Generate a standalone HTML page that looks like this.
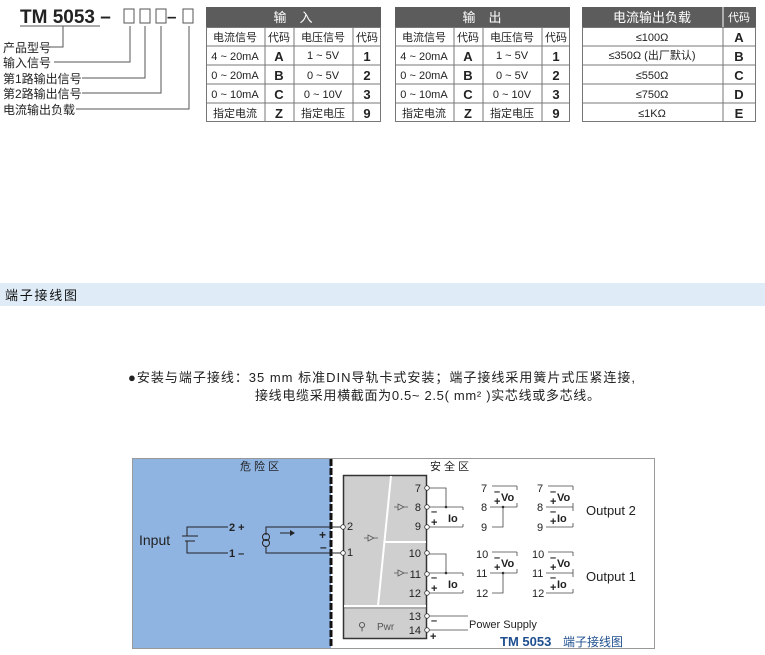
<!DOCTYPE html>
<html><head><meta charset="utf-8"><style>
html,body{margin:0;padding:0;background:#fff;}
svg{display:block;font-family:"Liberation Sans","Noto Sans CJK SC",sans-serif;}
</style></head><body>
<svg width="765" height="655" viewBox="0 0 765 655" xmlns="http://www.w3.org/2000/svg">
<rect width="765" height="655" fill="#fff"/>
<text x="20" y="23" font-size="19" font-weight="bold" fill="#222">TM 5053 –</text>
<g fill="none" stroke="#555" stroke-width="1">
<rect x="124" y="9" width="10" height="14"/><rect x="140" y="9" width="10" height="14"/><rect x="156" y="9" width="10" height="14"/>
<rect x="183" y="9" width="10" height="14"/>
<line x1="20" y1="26" x2="100" y2="26"/>
<polyline points="46,47 63,47 63,26"/>
<polyline points="54,62 130,62 130,26"/>
<polyline points="82,78 145,78 145,26"/>
<polyline points="82,93 161,93 161,26"/>
<polyline points="76,109 189,109 189,26"/>
</g>
<text x="167" y="22" font-size="17" font-weight="bold" fill="#222">–</text>
<g font-size="12" fill="#222">
<text x="3" y="52">产品型号</text><text x="3" y="67">输入信号</text><text x="3" y="83">第1路输出信号</text><text x="3" y="98">第2路输出信号</text><text x="3" y="114">电流输出负载</text>
</g>
<g id="t">
<rect x="206" y="7" width="175" height="20" fill="#5c5c5c"/>
<g fill="none" stroke="#777" stroke-width="1">
<rect x="206.5" y="27.5" width="174" height="94"/>
<line x1="206" y1="46" x2="381" y2="46"/><line x1="206" y1="65" x2="381" y2="65"/><line x1="206" y1="84" x2="381" y2="84"/><line x1="206" y1="103" x2="381" y2="103"/>
<line x1="265" y1="27" x2="265" y2="122"/><line x1="294" y1="27" x2="294" y2="122"/><line x1="353" y1="27" x2="353" y2="122"/>
</g>
<g font-size="11" fill="#222" text-anchor="middle">
<text x="235" y="41">电流信号</text><text x="279" y="41">代码</text><text x="323" y="41">电压信号</text><text x="367" y="41">代码</text>
<text x="235" y="60">4 ~ 20mA</text><text x="323" y="59">1 ~ 5V</text>
<text x="235" y="79">0 ~ 20mA</text><text x="323" y="79">0 ~ 5V</text>
<text x="235" y="98">0 ~ 10mA</text><text x="323" y="98">0 ~ 10V</text>
<text x="235" y="117">指定电流</text><text x="323" y="117">指定电压</text>
</g>
<g font-size="13" font-weight="bold" fill="#222" text-anchor="middle">
<text x="279" y="61">A</text><text x="279" y="80">B</text><text x="279" y="99">C</text><text x="279" y="118">Z</text>
<text x="367" y="61">1</text><text x="367" y="80">2</text><text x="367" y="99">3</text><text x="367" y="118">9</text>
</g>
</g>
<text x="293" y="22" font-size="13" fill="#fff" text-anchor="middle">输　入</text>
<use href="#t" x="189"/>
<rect x="470" y="8" width="24" height="18" fill="#5c5c5c"/>
<text x="482" y="22" font-size="13" fill="#fff" text-anchor="middle">输　出</text>
<rect x="582" y="7" width="174" height="20" fill="#5c5c5c"/>
<line x1="723" y1="7" x2="723" y2="27" stroke="#fff"/>
<text x="652" y="22" font-size="13" fill="#fff" text-anchor="middle">电流输出负载</text>
<text x="739" y="21" font-size="11" fill="#fff" text-anchor="middle">代码</text>
<g fill="none" stroke="#777">
<rect x="582.5" y="27.5" width="173" height="94"/>
<line x1="582" y1="46" x2="756" y2="46"/><line x1="582" y1="65" x2="756" y2="65"/><line x1="582" y1="84" x2="756" y2="84"/><line x1="582" y1="103" x2="756" y2="103"/>
<line x1="723" y1="27" x2="723" y2="122"/>
</g>
<g font-size="11" fill="#222" text-anchor="middle">
<text x="652" y="41">≤100Ω</text><text x="652" y="59">≤350Ω (出厂默认)</text><text x="652" y="79">≤550Ω</text><text x="652" y="98">≤750Ω</text><text x="652" y="117">≤1KΩ</text>
</g>
<g font-size="13" font-weight="bold" fill="#222" text-anchor="middle">
<text x="739" y="42">A</text><text x="739" y="61">B</text><text x="739" y="80">C</text><text x="739" y="99">D</text><text x="739" y="118">E</text>
</g>
<rect x="0" y="283" width="765" height="23" fill="#dfecf8"/>
<text x="5" y="300" font-size="13" fill="#111" textLength="72">端子接线图</text>
<text x="128" y="382" font-size="13" fill="#222" textLength="507" lengthAdjust="spacing">●安装与端子接线：35 mm 标准DIN导轨卡式安装；端子接线采用簧片式压紧连接,</text>
<text x="255" y="400" font-size="13" fill="#222" textLength="345" lengthAdjust="spacing">接线电缆采用横截面为0.5~ 2.5( mm² )实芯线或多芯线。</text>
<rect x="132.5" y="458.5" width="522" height="190" fill="#fff" stroke="#999"/>
<rect x="133" y="459" width="198" height="189" fill="#8fb4e2"/>
<line x1="331" y1="459" x2="331" y2="648" stroke="#111" stroke-width="3" stroke-dasharray="7,2"/>
<text x="240" y="470" font-size="11" fill="#222">危 险 区</text>
<text x="430" y="470" font-size="11" fill="#222">安 全 区</text>
<rect x="343.5" y="475.5" width="83" height="163" fill="#cfcfcf" stroke="#333" stroke-width="1.5"/>
<line x1="391" y1="476" x2="378" y2="606" stroke="#fff" stroke-width="2"/>
<line x1="384" y1="542" x2="426" y2="542" stroke="#fff" stroke-width="2"/>
<line x1="344" y1="606" x2="426" y2="606" stroke="#fff" stroke-width="2"/>
<line x1="344" y1="608" x2="426" y2="608" stroke="#888" stroke-width="1"/>
<g fill="none" stroke="#555" stroke-width="0.8">
<path d="M398,510 l6,-3 l-6,-3 z M394,507 h4 M404,507 h4"/>
<path d="M398,576 l6,-3 l-6,-3 z M394,573 h4 M404,573 h4"/>
<path d="M368,541 l6,-3 l-6,-3 z M364,538 h4 M374,538 h4"/>
</g>
<text x="358" y="630" font-size="11" fill="#555">⚲</text>
<text x="377" y="630" font-size="10" fill="#555">Pwr</text>
<g font-size="11" fill="#222" text-anchor="end">
<text x="421" y="492">7</text><text x="421" y="511">8</text><text x="421" y="530">9</text>
<text x="421" y="557">10</text><text x="421" y="578">11</text><text x="421" y="597">12</text>
<text x="421" y="620">13</text><text x="421" y="634">14</text>
</g>
<text x="347" y="530" font-size="11" fill="#222">2</text><text x="347" y="556" font-size="11" fill="#222">1</text>
<g stroke="#222" fill="none" stroke-width="1">
<polyline points="228,527 187,527 187,536"/><line x1="182" y1="536" x2="198" y2="536"/><line x1="185" y1="541" x2="195" y2="541"/>
<polyline points="187,541 187,553 228,553"/>
<polyline points="343,527 266,527 266,535"/><circle cx="266" cy="537" r="3.5"/><circle cx="266" cy="543" r="3.5"/>
<polyline points="266,547 266,553 343,553"/>
<line x1="280" y1="533" x2="290" y2="533"/>
</g>
<path d="M290,530 l5,3 l-5,3z" fill="#222"/>
<text x="229" y="531" font-size="11" font-weight="bold" fill="#222">2 +</text>
<text x="229" y="557" font-size="11" font-weight="bold" fill="#222">1 –</text>
<text x="319" y="539" font-size="12" font-weight="bold" fill="#222">+</text>
<text x="320" y="551" font-size="12" font-weight="bold" fill="#222">–</text>
<text x="139" y="545" font-size="14" fill="#222">Input</text>
<g fill="#fff" stroke="#333" stroke-width="0.8">
<circle cx="343" cy="527" r="2.3"/><circle cx="343" cy="553" r="2.3"/>
<circle cx="427" cy="488" r="2.3"/><circle cx="427" cy="507" r="2.3"/><circle cx="427" cy="527" r="2.3"/>
<circle cx="427" cy="553" r="2.3"/><circle cx="427" cy="574" r="2.3"/><circle cx="427" cy="593" r="2.3"/>
<circle cx="427" cy="616" r="2.3"/><circle cx="427" cy="630" r="2.3"/>
</g>
<g id="og">
<g stroke="#444" fill="none" stroke-width="0.8">
<polyline points="429,488 446,488 446,507"/><line x1="429" y1="507" x2="463" y2="507"/><line x1="429" y1="527" x2="463" y2="527"/>
<path d="M463,507 v3 M463,527 v-3"/>
<line x1="492" y1="486" x2="517" y2="486"/><line x1="490" y1="507" x2="517" y2="507"/><polyline points="503,507 503,527 492,527"/>
<path d="M517,486 v4 M517,507 v-4"/>
<line x1="548" y1="486" x2="573" y2="486"/><line x1="546" y1="507" x2="573" y2="507"/><line x1="546" y1="527" x2="573" y2="527"/>
<path d="M573,486 v4 M573,507 v-4 M573,507 v4 M573,527 v-4"/>
</g>
<circle cx="446" cy="507" r="1.3" fill="#333"/><circle cx="503" cy="507" r="1.3" fill="#333"/>
<g font-size="11" fill="#222" font-weight="bold">
<text x="431" y="515">–</text><text x="431" y="526">+</text><text x="448" y="522">Io</text>
<text x="494" y="495">–</text><text x="494" y="505">+</text><text x="501" y="501">Vo</text>
<text x="550" y="495">–</text><text x="550" y="505">+</text><text x="557" y="501">Vo</text>
<text x="550" y="515">–</text><text x="550" y="525">+</text><text x="557" y="522">Io</text>
</g>
</g>
<use href="#og" y="66"/>
<g font-size="11" fill="#222">
<text x="481" y="492">7</text><text x="481" y="511">8</text><text x="481" y="531">9</text>
<text x="537" y="492">7</text><text x="537" y="511">8</text><text x="537" y="531">9</text>
<text x="476" y="558">10</text><text x="476" y="577">11</text><text x="476" y="597">12</text>
<text x="532" y="558">10</text><text x="532" y="577">11</text><text x="532" y="597">12</text>
</g>
<text x="586" y="515" font-size="13" fill="#222">Output 2</text>
<text x="586" y="581" font-size="13" fill="#222">Output 1</text>
<g stroke="#444" stroke-width="0.8"><line x1="429" y1="616" x2="468" y2="616"/><line x1="429" y1="630" x2="468" y2="630"/></g>
<text x="431" y="624" font-size="11" font-weight="bold" fill="#222">–</text>
<text x="430" y="640" font-size="11" font-weight="bold" fill="#222">+</text>
<text x="469" y="628" font-size="11" fill="#222">Power Supply</text>
<text x="500" y="646" font-size="13" font-weight="bold" fill="#1f4f8f">TM 5053</text>
<text x="563" y="646" font-size="12" fill="#1f4f8f">端子接线图</text>
</svg>
</body></html>
